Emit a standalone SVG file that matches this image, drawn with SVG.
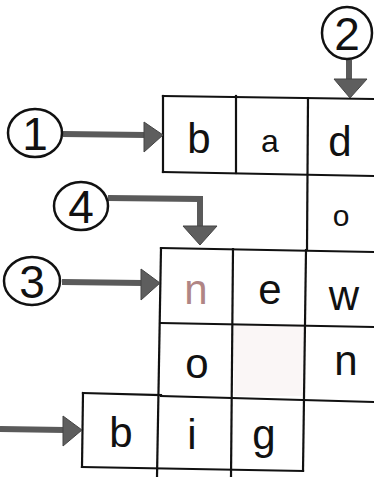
<svg xmlns="http://www.w3.org/2000/svg" width="374" height="477" viewBox="0 0 374 477">
<defs>
<style>
.grid{stroke:#111;stroke-width:2.2;fill:none;stroke-linecap:square}
.circ{stroke:#111;stroke-width:2.5;fill:none}
.num{font-family:"Liberation Sans","DejaVu Sans",sans-serif;font-size:46px;fill:#111;text-anchor:middle}
.let{font-family:"Liberation Sans","DejaVu Sans",sans-serif;font-size:42px;fill:#111;text-anchor:middle}
.shaft{stroke:#5a5a5a;stroke-width:6;fill:none}
.head{fill:#5e5e5e;stroke:#444;stroke-width:1}
</style>
</defs>
<rect width="374" height="477" fill="#fff"/>
<rect x="234" y="324" width="70" height="72" fill="#faf6f6"/>
<g id="grid" class="grid">
<line x1="163" y1="96" x2="374" y2="99"/>
<line x1="163" y1="172" x2="374" y2="176"/>
<line x1="163" y1="96" x2="163" y2="172"/>
<line x1="236" y1="96" x2="236" y2="173"/>
<line x1="308" y1="98" x2="307" y2="250"/>
<line x1="161" y1="248" x2="374" y2="252"/>
<line x1="161" y1="323" x2="374" y2="327"/>
<line x1="161" y1="396" x2="374" y2="402"/>
<line x1="83" y1="393" x2="161" y2="395"/>
<line x1="83" y1="393" x2="82" y2="467"/>
<line x1="82" y1="467" x2="303" y2="471"/>
<line x1="161" y1="248" x2="157" y2="477"/>
<line x1="233" y1="249" x2="231" y2="477"/>
<line x1="306" y1="250" x2="303" y2="471"/>
</g>
<g id="connectors">
<line class="shaft" x1="63" y1="134" x2="146" y2="135"/>
<polygon class="head" points="144,122 163,135 144,152"/>
<line class="shaft" x1="349" y1="60" x2="349" y2="82"/>
<polygon class="head" points="334,79 367,79 350,98"/>
<polyline class="shaft" points="108,198 200,199 200,228"/>
<polygon class="head" points="183,226 217,226 200,245"/>
<line class="shaft" x1="62" y1="282" x2="143" y2="283"/>
<polygon class="head" points="141,269 160,283 141,300"/>
<line class="shaft" x1="0" y1="429" x2="65" y2="430"/>
<polygon class="head" points="63,416 82,430 63,446"/>
</g>
<g id="c1"><ellipse class="circ" cx="35" cy="133" rx="27" ry="24"/><text class="num" x="35" y="150">1</text></g>
<g id="c2"><ellipse class="circ" cx="347" cy="33" rx="25" ry="26"/><text class="num" x="347" y="50">2</text></g>
<g id="c3"><ellipse class="circ" cx="32" cy="281" rx="28" ry="24"/><text class="num" x="32" y="298">3</text></g>
<g id="c4"><ellipse class="circ" cx="81" cy="206" rx="27" ry="24"/><text class="num" x="81" y="223">4</text></g>
<g id="letters">
<text class="let" x="199" y="153">b</text>
<text class="let" x="270" y="152" style="font-size:32px">a</text>
<text class="let" x="340" y="156">d</text>
<text class="let" x="341" y="226" style="font-size:30px">o</text>
<text class="let" x="196" y="304" style="fill:#b08585">n</text>
<text class="let" x="270" y="304">e</text>
<text class="let" x="344" y="310">w</text>
<text class="let" x="197" y="378">o</text>
<text class="let" x="346" y="375">n</text>
<text class="let" x="121" y="447">b</text>
<text class="let" x="192" y="449">i</text>
<text class="let" x="264" y="449">g</text>
</g>
</svg>
